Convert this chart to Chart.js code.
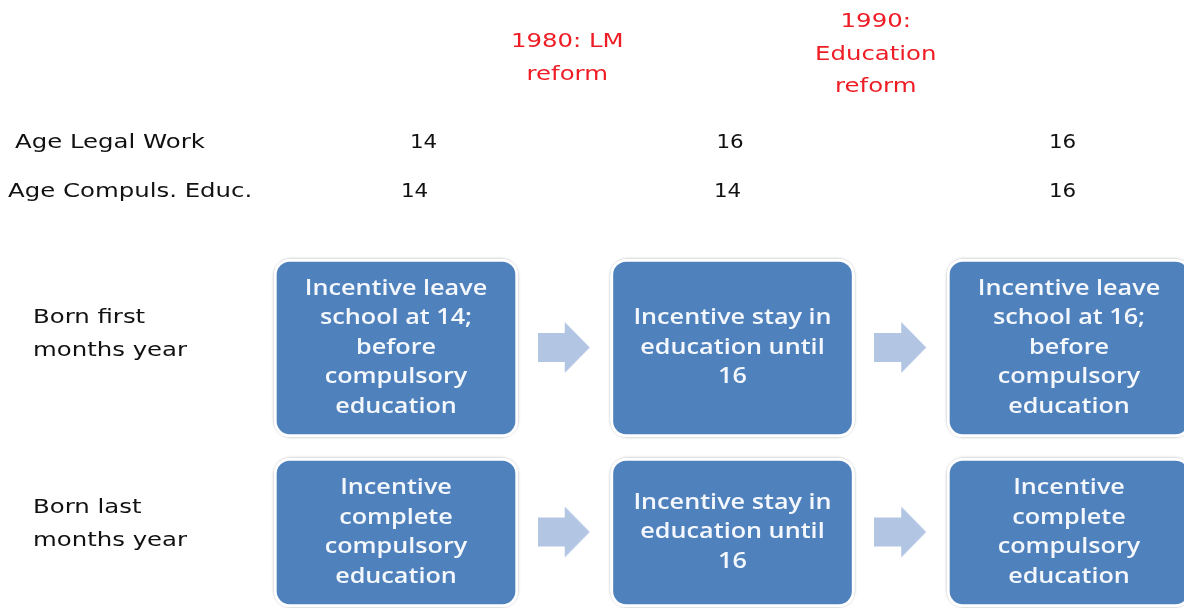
<!DOCTYPE html>
<html>
<head>
<meta charset="utf-8">
<script src="https://cdn.jsdelivr.net/npm/chart.js@4.4.1/dist/chart.umd.min.js"></script>
<style>
  html, body { margin: 0; padding: 0; background: #ffffff; }
  #wrap { width: 1184px; height: 608px; position: relative; }
</style>
</head>
<body>
<div id="wrap"><canvas id="c" width="1184" height="608"></canvas></div>
<script>
// ---------- DATA ----------
const periods = ['Before 1980', '1980-1990', 'After 1990'];
const legalWorkAge = [14, 16, 16];
const compulsoryEducAge = [14, 14, 16];
const ageRowLabels = ['Age Legal Work', 'Age Compuls. Educ.'];
const reforms = [['1980: LM', 'reform'], ['1990:', 'Education', 'reform']];
const cohorts = [['Born first', 'months year'], ['Born last', 'months year']];
const incentivesBornFirst = [
  ['Incentive leave', 'school at 14;', 'before', 'compulsory', 'education'],
  ['Incentive stay in', 'education until', '16'],
  ['Incentive leave', 'school at 16;', 'before', 'compulsory', 'education']
];
const incentivesBornLast = [
  ['Incentive', 'complete', 'compulsory', 'education'],
  ['Incentive stay in', 'education until', '16'],
  ['Incentive', 'complete', 'compulsory', 'education']
];

// ---------- LAYOUT (vertical units = canvas pixels, horizontal = period index) ----------
const LAYOUT = {
  xCenter0: 396, xStep: 336.5,
  rowSpans: [[259, 437], [458, 607]],
  boxWidth: 244,
  ageBaselines: [148, 197],
  ageLabelLeft: [15, 8],
  ageNumDx: [[27.5, -2.5, -6.5], [18.5, -5, -6.5]],
  reformX: [0.5, 1.5], reformDx: [3, -25], reformTopBaseline: [47, 27], reformLine: 32.5,
  cohortLeft: 33, cohortLine: 33, cohortFirstDy: [-25, -20],
  boxLine: 29.5
};

const BLUE = '#4F81BD', ARROW = '#B2C5E3', RED = '#EE1C24', INK = '#111111';
const LABEL_FONT = '20px "DejaVu Sans"';
const LABEL_SX = 1.22;
const NUM_SX = 1.07;
const BOX_FONT = '600 21px "Open Sans"';
const BOX_SX = 1.2;

// arrow point style
function makeArrow() {
  const c = document.createElement('canvas');
  c.width = 53; c.height = 52;
  const g = c.getContext('2d');
  g.fillStyle = ARROW;
  g.beginPath();
  g.moveTo(0, 11); g.lineTo(27, 11); g.lineTo(27, 0); g.lineTo(52, 25.5);
  g.lineTo(27, 51); g.lineTo(27, 40); g.lineTo(0, 40); g.closePath();
  g.fill();
  return c;
}
const arrowImg = makeArrow();

const rowCenters = LAYOUT.rowSpans.map(s => (s[0] + s[1]) / 2);
const boxData = row => periods.map((p, i) => ({ x: i, y: LAYOUT.rowSpans[row] }));
const arrowData = [];
for (let r = 0; r < 2; r++) for (let k = 0; k < periods.length - 1; k++) arrowData.push({ x: k + 0.5, y: rowCenters[r] });

const xMin = -LAYOUT.xCenter0 / LAYOUT.xStep;
const xMax = (1184 - LAYOUT.xCenter0) / LAYOUT.xStep;

const shadowPlugin = {
  id: 'boxShadow',
  beforeDatasetsDraw(chart) {
    const ctx = chart.ctx;
    [0, 1].forEach(di => {
      chart.getDatasetMeta(di).data.forEach(el => {
        const p = el.getProps(['x', 'y', 'base', 'width'], true);
        const l = p.x - p.width / 2, t = Math.min(p.y, p.base), h = Math.abs(p.base - p.y);
        ctx.save();
        ctx.shadowColor = 'rgba(0,0,0,0.35)';
        ctx.shadowBlur = 3;
        ctx.fillStyle = '#ffffff';
        ctx.beginPath();
        ctx.roundRect(l, t, p.width, h, 17);
        ctx.fill();
        ctx.restore();
      });
    });
  }
};

// draw text stretched horizontally by sx, anchored at x
function stretchedText(ctx, s, x, y, sx) {
  ctx.save();
  ctx.translate(x, y);
  ctx.scale(sx, 1);
  ctx.fillText(s, 0, 0);
  ctx.restore();
}
function drawLines(ctx, lines, x, y0, step, sx) {
  lines.forEach((s, i) => stretchedText(ctx, s, x, y0 + i * step, sx));
}

const textPlugin = {
  id: 'diagramText',
  afterDatasetsDraw(chart) {
    const ctx = chart.ctx, xs = chart.scales.x, ys = chart.scales.y;
    ctx.save();
    // box texts
    ctx.fillStyle = '#F4F8FC';
    ctx.font = BOX_FONT;
    ctx.textAlign = 'center';
    ctx.textBaseline = 'middle';
    [incentivesBornFirst, incentivesBornLast].forEach((rowTexts, r) => {
      chart.getDatasetMeta(r).data.forEach((el, i) => {
        const p = el.getProps(['x', 'y', 'base'], true);
        const cy = (p.y + p.base) / 2;
        const lines = rowTexts[i];
        const y0 = cy - (lines.length - 1) / 2 * LAYOUT.boxLine;
        drawLines(ctx, lines, p.x, y0, LAYOUT.boxLine, BOX_SX);
      });
    });
    // labels
    ctx.font = LABEL_FONT;
    ctx.textBaseline = 'alphabetic';
    ctx.fillStyle = INK;
    ctx.textAlign = 'left';
    ageRowLabels.forEach((s, r) => stretchedText(ctx, s, LAYOUT.ageLabelLeft[r], ys.getPixelForValue(LAYOUT.ageBaselines[r]), LABEL_SX));
    ctx.textAlign = 'center';
    [legalWorkAge, compulsoryEducAge].forEach((vals, r) => {
      vals.forEach((v, i) => stretchedText(ctx, String(v), xs.getPixelForValue(i) + LAYOUT.ageNumDx[r][i], ys.getPixelForValue(LAYOUT.ageBaselines[r]), NUM_SX));
    });
    // cohorts
    ctx.textAlign = 'left';
    cohorts.forEach((lines, r) => {
      const y0 = ys.getPixelForValue(rowCenters[r]) + LAYOUT.cohortFirstDy[r];
      drawLines(ctx, lines, LAYOUT.cohortLeft, y0, LAYOUT.cohortLine, LABEL_SX);
    });
    // reforms
    ctx.fillStyle = RED;
    ctx.textAlign = 'center';
    reforms.forEach((lines, k) => {
      const x = xs.getPixelForValue(LAYOUT.reformX[k]) + LAYOUT.reformDx[k];
      drawLines(ctx, lines, x, ys.getPixelForValue(LAYOUT.reformTopBaseline[k]), LAYOUT.reformLine, LABEL_SX);
    });
    ctx.restore();
  }
};

new Chart(document.getElementById('c'), {
  type: 'bar',
  data: {
    datasets: [
      { label: cohorts[0].join(' '), data: boxData(0), backgroundColor: BLUE, borderColor: '#ffffff', borderWidth: 3, borderSkipped: false, borderRadius: 16, barThickness: LAYOUT.boxWidth, grouped: false, order: 2 },
      { label: cohorts[1].join(' '), data: boxData(1), backgroundColor: BLUE, borderColor: '#ffffff', borderWidth: 3, borderSkipped: false, borderRadius: 16, barThickness: LAYOUT.boxWidth, grouped: false, order: 2 },
      { type: 'scatter', label: 'arrows', data: arrowData, pointStyle: arrowImg, pointRadius: 26, order: 1, clip: false }
    ]
  },
  options: {
    responsive: false,
    animation: false,
    layout: { padding: 0, autoPadding: false },
    plugins: { legend: { display: false }, tooltip: { enabled: false } },
    scales: {
      x: { type: 'linear', min: xMin, max: xMax, display: false, offset: false },
      y: { type: 'linear', min: 0, max: 608, reverse: true, display: false }
    }
  },
  plugins: [shadowPlugin, textPlugin]
});
</script>
</body>
</html>
